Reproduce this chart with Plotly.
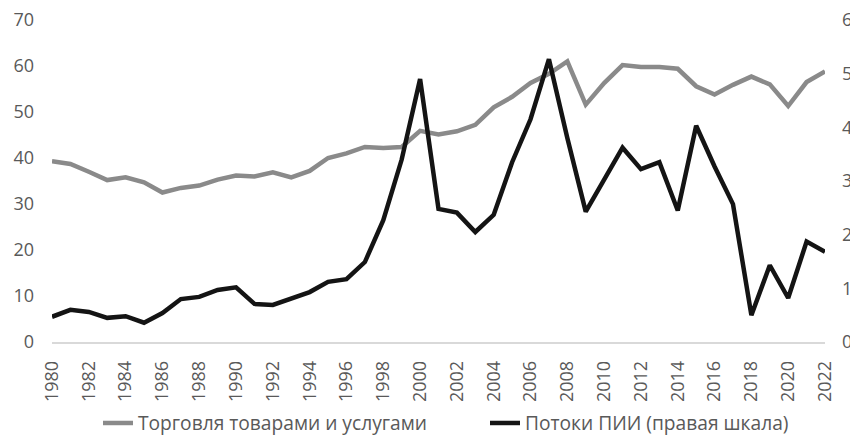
import plotly.graph_objects as go

years = list(range(1980, 2023))
trade = [39.3, 38.7, 37.0, 35.2, 35.8, 34.7, 32.5, 33.5, 34.0, 35.3,
         36.2, 36.0, 36.9, 35.8, 37.2, 40.0, 41.0, 42.4, 42.2, 42.4,
         45.9, 45.1, 45.8, 47.2, 51.0, 53.3, 56.3, 58.3, 61.0, 51.6,
         56.3, 60.2, 59.8, 59.8, 59.4, 55.6, 53.8, 55.9, 57.7, 56.0,
         51.3, 56.5, 58.8]
fdi = [0.47, 0.60, 0.56, 0.45, 0.48, 0.36, 0.54, 0.80, 0.84, 0.97,
       1.02, 0.71, 0.69, 0.80, 0.93, 1.12, 1.17, 1.49, 2.27, 3.40,
       4.90, 2.48, 2.41, 2.05, 2.37, 3.35, 4.15, 5.27, 3.80, 2.43,
       3.02, 3.62, 3.22, 3.35, 2.45, 4.03, 3.27, 2.57, 0.50, 1.43,
       0.82, 1.87, 1.68]
name_trade = "Торговля товарами и услугами"
name_fdi = "Потоки ПИИ (правая шкала)"
left_ticks = [0, 10, 20, 30, 40, 50, 60, 70]
right_ticks = [0, 1, 2, 3, 4, 5, 6]

font = "Open Sans"
tick_color = "#595959"
W, H = 850, 427

fig = go.Figure()
fig.add_trace(go.Scatter(x=[str(y) for y in years], y=trade, name=name_trade, mode="lines",
                         line=dict(color="#8a8a8a", width=4.5), yaxis="y", legend="legend"))
fig.add_trace(go.Scatter(x=[str(y) for y in years], y=fdi, name=name_fdi, mode="lines",
                         line=dict(color="#141414", width=4.5), yaxis="y2", legend="legend2"))

leg_common = dict(orientation="h", xanchor="left", xref="container", yref="container",
                  yanchor="middle", y=1 - 415 / H, font=dict(size=19.2, color=tick_color),
                  bgcolor="rgba(0,0,0,0)", borderwidth=0)

fig.update_layout(
    width=W, height=H,
    margin=dict(l=44, r=33, t=12, b=93, autoexpand=False),
    plot_bgcolor="white", paper_bgcolor="white",
    font=dict(family=font, size=18, color=tick_color),
    xaxis=dict(type="category", tickvals=[str(y) for y in years if y % 2 == 0],
               tickangle=-90, showgrid=False, showline=True, linecolor="#d9d9d9",
               linewidth=1.5, ticks="", ticklabelstandoff=10, automargin=False,
               tickfont=dict(size=18, color=tick_color)),
    yaxis=dict(range=[0, 70], tickvals=left_ticks, showgrid=False, zeroline=False,
               showline=False, ticks="", ticklabelstandoff=17, automargin=False,
               ticklabeloverflow="allow",
               tickfont=dict(size=18, color=tick_color)),
    yaxis2=dict(range=[0, 6], tickvals=right_ticks, overlaying="y", side="right",
                showgrid=False, zeroline=False, showline=False, ticks="",
                ticklabelstandoff=16, automargin=False, ticklabeloverflow="allow",
                tickfont=dict(size=18, color=tick_color)),
    legend=dict(x=(98 - 8) / W, **leg_common),
    legend2=dict(x=(485 - 8) / W, **leg_common),
    showlegend=True,
)

fig.write_html("out.html")
